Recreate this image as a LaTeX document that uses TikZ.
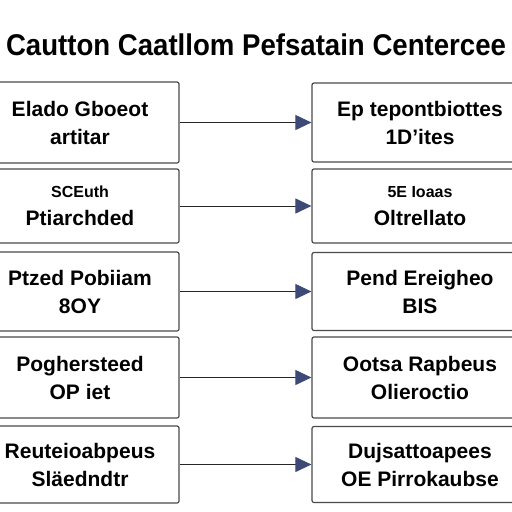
\documentclass[tikz,border=0pt]{standalone}
\usepackage{fontspec}
\setmainfont{Liberation Sans}
\usetikzlibrary{arrows.meta}
\definecolor{boxline}{HTML}{4A4A4A}
\definecolor{tipblue}{HTML}{3D4A78}
\tikzset{
  box/.style={draw=boxline, line width=1.2pt, rounded corners=2pt, fill=white,
    align=center, inner sep=0pt,
    font=\fontsize{21}{28}\selectfont\bfseries},
  lbox/.style={box, minimum width=198pt},
  rbox/.style={box, minimum width=216pt},
  conn/.style={line width=1pt, draw=black!85, -{Triangle[length=16pt,width=15pt,fill=tipblue,color=tipblue]}},
}
\begin{document}
\begin{tikzpicture}[x=1pt,y=-1pt]
\useasboundingbox (0,0) rectangle (512,512);
\clip (0,0) rectangle (512,512);
\fill[white] (0,0) rectangle (512,512);
\node[font=\fontsize{30}{32}\selectfont\bfseries] (title) at (256,45) {\scalebox{0.92}[1]{Cautton Caatllom Pefsatain Centercee}};
% row 1
\node[lbox, minimum height=81pt] (l1) at (80,122.5) {Elado Gboeot\\artitar};
\node[rbox, minimum height=79pt] (r1) at (420,122.5) {Ep tepontbiottes\\1D'ites};
% row 2
\node[lbox, minimum height=74pt] (l2) at (80,206) {{\fontsize{16}{28}\selectfont SCEuth}\\Ptiarchded};
\node[rbox, minimum height=74pt] (r2) at (420,206) {{\fontsize{16}{28}\selectfont 5E Ioaas}\\Oltrellato};
% row 3
\node[lbox, minimum height=79pt] (l3) at (80,291.5) {Ptzed Pobiiam\\8OY};
\node[rbox, minimum height=78pt] (r3) at (420,291.5) {Pend Ereigheo\\BIS};
% row 4
\node[lbox, minimum height=81pt] (l4) at (80,377.5) {Poghersteed\\OP iet};
\node[rbox, minimum height=81pt] (r4) at (420,377.5) {Ootsa Rapbeus\\Olieroctio};
% row 5
\node[lbox, minimum height=77pt] (l5) at (80,464.5) {Reuteioabpeus\\Sl\"aedndtr};
\node[rbox, minimum height=76pt] (r5) at (420,464.5) {Dujsattoapees\\OE Pirrokaubse};
\foreach \i in {1,...,5}{
  \draw[conn] (l\i.east) -- (r\i.west);
}
\end{tikzpicture}
\end{document}
